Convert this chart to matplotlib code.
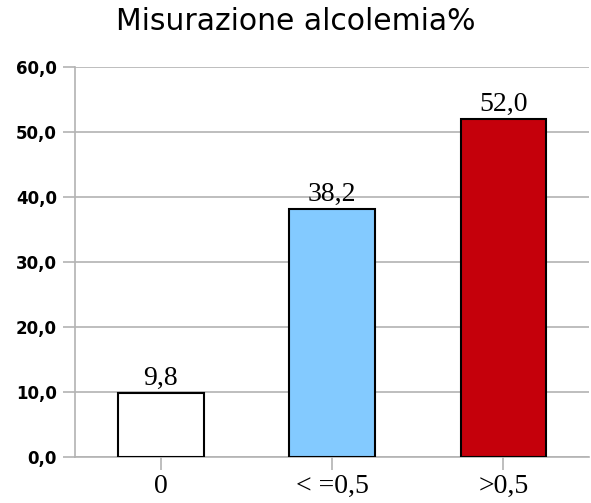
import matplotlib.pyplot as plt

categories = ["0", "< =0,5", ">0,5"]
values = [9.8, 38.2, 52.0]
colors = ["#ffffff", "#83caff", "#c5000b"]
yticks = [0, 10, 20, 30, 40, 50, 60]

fig = plt.figure(figsize=(5.91, 5.03), dpi=100)
ax = fig.add_axes([75 / 591, 1 - 457 / 503, 514 / 591, 390 / 503])

x = range(len(categories))
bars = ax.bar(x, values, width=0.5, color=colors, edgecolor="black", linewidth=1.5, zorder=3)

for xi, v in zip(x, values):
    ax.text(xi, v + 0.3, f"{v:.1f}".replace(".", ","), ha="center", va="bottom",
            fontsize=20, family="Liberation Serif", zorder=4)

ax.set_xlim(-0.5, 2.5)
ax.set_ylim(0, 60)
ax.set_yticks(yticks)
ax.set_yticklabels([f"{t:.1f}".replace(".", ",") for t in yticks],
                   fontsize=12, fontweight="bold", family="DejaVu Sans")
ax.set_xticks(list(x))
ax.set_xticklabels(categories, fontsize=20, family="Liberation Serif")
ax.grid(axis="y", color="#b3b3b3", linewidth=1.2, zorder=0)

for s in ["top", "right"]:
    ax.spines[s].set_visible(False)
ax.spines["left"].set_color("#b3b3b3")
ax.spines["bottom"].set_color("#b3b3b3")
ax.spines["left"].set_linewidth(1.2)
ax.spines["bottom"].set_linewidth(1.2)
ax.tick_params(axis="y", length=9, color="#b3b3b3", width=1.2, pad=4)
ax.tick_params(axis="x", length=9, color="#b3b3b3", width=1.2, pad=3)

fig.text(0.5, 1 - 22 / 503, "Misurazione alcolemia%", ha="center", va="center",
         fontsize=21.5, family="DejaVu Sans")

fig.savefig("out.png", dpi=100)
